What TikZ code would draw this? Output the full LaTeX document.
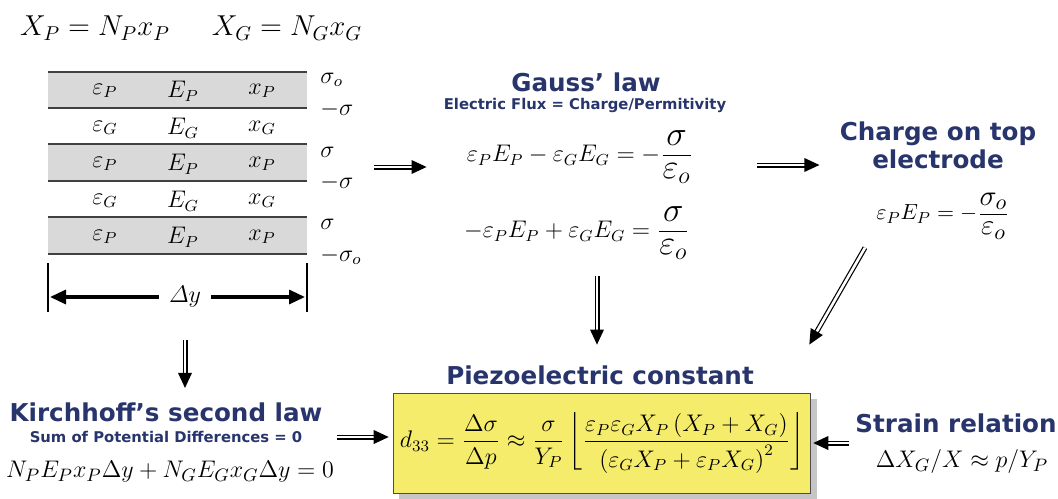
\documentclass[tikz,border=0pt]{standalone}
\usepackage{amsmath}
\usepackage{fontspec}
\setsansfont{DejaVu Sans}
\usetikzlibrary{arrows.meta, positioning, calc, shadows, decorations.markings}
\definecolor{navy}{RGB}{40,52,108}
\definecolor{bandgray}{RGB}{217,217,217}
\definecolor{boxyellow}{RGB}{246,236,108}
\newcommand{\bigfrac}[3][18]{\dfrac{\mbox{\fontsize{#1}{#1}\selectfont$#2$}}{\mbox{\fontsize{#1}{#1}\selectfont$#3$}}}

\begin{document}
\begin{tikzpicture}[x=0.5pt, y=-0.5pt, >=Triangle]
    \tikzset{head/.style={font=\fontsize{12.3}{14}\selectfont\bfseries\sffamily, text=navy, align=center, inner sep=0pt},
        subhead/.style={font=\fontsize{7.4}{9}\selectfont\bfseries\sffamily, text=navy, inner sep=0pt},
        eq/.style={font=\fontsize{12}{14}\selectfont, inner sep=0pt},
        cell/.style={font=\fontsize{12}{14}\selectfont, inner sep=0pt},
        dbl/.style={double, double distance=1.3pt, line width=0.6pt, shorten >=5pt,
            postaction={draw=none, decorate, decoration={markings,
                mark=at position 1 with {\fill (0pt,0pt) -- (-7.5pt,3.5pt) -- (-7.5pt,-3.5pt) -- cycle;}}}},
        dyarrow/.style={line width=1.6pt, -{Triangle[length=8pt,width=7pt]}}
    }
    \useasboundingbox (0,0) rectangle (1058,498);

    % layered stack
    \node (XP) [eq, font=\fontsize{14}{16}\selectfont] at (95,28) {$X_P = N_P x_P$};
    \node (XG) [eq, font=\fontsize{14}{16}\selectfont] at (287,28) {$X_G = N_G x_G$};
    \foreach \y in {72,144,217}
        \fill [bandgray] (48,\y) rectangle (307,\y+37);
    \foreach \y in {72,108,144,181,217,254}
        \draw [line width=0.8pt, black!75] (48,\y) -- (307,\y);
    \foreach \r / \y / \m in {1/91/P, 2/128/G, 3/164/P, 4/201/G, 5/237/P} {
        \node (eps\r) [cell] at (105,\y) {$\varepsilon_\m$};
        \node (E\r) [cell] at (183,\y) {$E_\m$};
        \node (x\r) [cell] at (262,\y) {$x_\m$};
    }
    \foreach \n / \y / \s in {1/80/\sigma_o, 2/109/-\sigma, 3/152/\sigma, 4/182/-\sigma, 5/224/\sigma, 6/256/-\sigma_o}
        \node (q\n) [cell, anchor=west] at (320,\y) {$\s$};

    \node (dy) [cell] at (185,297) {$\varDelta y$};
    \draw [line width=0.8pt] (48,263) -- (48,312) (307,263) -- (307,312);
    \draw [dyarrow] ([xshift=-5pt]dy.west) -- (50,297);
    \draw [dyarrow] ([xshift=5pt]dy.east) -- (305,297);

    % Gauss
    \node (gausshead) [head] at (586,82) {Gauss’ law};
    \node (gausssub) [subhead] at (585,105) {Electric Flux = Charge/Permitivity};
    \node (gauss1) [eq] at (580,157) {$\varepsilon_P E_P - \varepsilon_G E_G = -\bigfrac{\sigma}{\varepsilon_o}$};
    \node (gauss2) [eq] at (577,233) {$-\varepsilon_P E_P + \varepsilon_G E_G = \bigfrac{\sigma}{\varepsilon_o}$};

    % charge on top electrode
    \node (chghead) [head] at (938,145) {Charge on top\\electrode};
    \node (chgeq) [eq, font=\fontsize{11}{13}\selectfont] at (943,216) {$\varepsilon_P E_P = -\bigfrac[15]{\sigma_o}{\varepsilon_o}$};

    % Kirchhoff
    \node (kirchhead) [head] at (166,412) {Kirchhoff’s second law};
    \node (kirchsub) [subhead] at (166,437) {Sum of Potential Differences = 0};
    \node (kirch) [eq, font=\fontsize{13}{15}\selectfont] at (170,472) {$N_P E_P x_P \Delta y + N_G E_G x_G \Delta y = 0$};

    % piezoelectric constant
    \node (piezohead) [head] at (600,375) {Piezoelectric constant};
    \node (box) [draw=black!70, fill=boxyellow, drop shadow={shadow xshift=3pt, shadow yshift=-3pt, opacity=0.45},
        minimum width=198.5pt, minimum height=50pt, font=\fontsize{12}{14}\selectfont] at (602,443)
        {$d_{33} = \dfrac{\Delta\sigma}{\Delta p} \approx \dfrac{\sigma}{Y_P}\left\lfloor \dfrac{\varepsilon_P\varepsilon_G X_P\left(X_P + X_G\right)}{\left(\varepsilon_G X_P + \varepsilon_P X_G\right)^2}\right\rfloor$};

    % strain
    \node (strainhead) [head] at (956,423) {Strain relation};
    \node (straineq) [eq, font=\fontsize{13}{15}\selectfont] at (962,461) {$\Delta X_G / X \approx p / Y_P$};

    \draw [dbl] (q4.east |- gauss1.west) ++(10pt,-5pt) -- ([xshift=-20pt,yshift=-5pt]gauss1.west);
    \draw [dbl] ([xshift=32pt,yshift=-4pt]gauss1.east) -- ([xshift=-10pt,yshift=-10pt]chghead.west);
    \draw [dbl] ([xshift=-39pt,yshift=-4pt]chgeq.south) -- ([xshift=-1pt,yshift=24pt]box.north east);
    \draw [dbl] ([xshift=10pt,yshift=-8pt]gauss2.south) -- ([xshift=-2.5pt,yshift=24pt]box.north);
    \draw [dbl] ([yshift=-16pt]dy.south) -- ([yshift=-40pt]dy.south);
    \draw [dbl] ([xshift=17pt]kirchsub.east) -- ([xshift=-2pt]kirchsub.east -| box.west);
    \draw [dbl] ([xshift=-3pt]box.east -| strainhead.west) -- ([xshift=1pt]box.east);
\end{tikzpicture}
\end{document}
